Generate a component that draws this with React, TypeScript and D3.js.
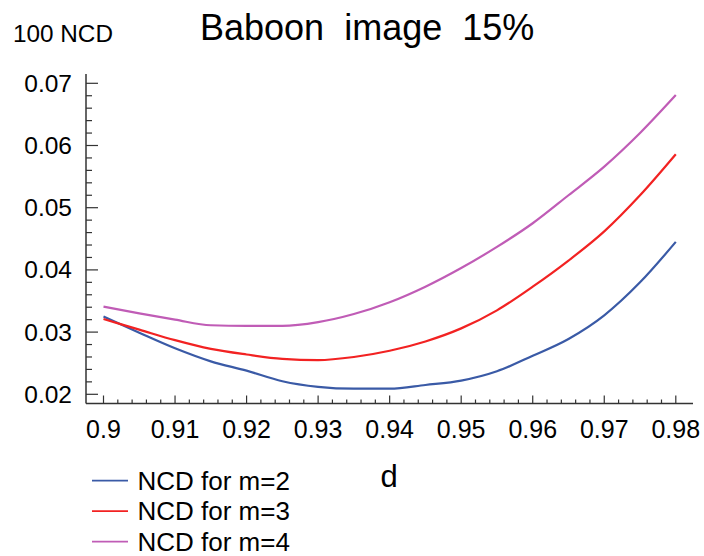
import React from "react";
import * as d3 from "d3";

const dValues = [0.9, 0.905, 0.91, 0.915, 0.92, 0.925, 0.93, 0.935, 0.94, 0.945, 0.95, 0.955, 0.96, 0.965, 0.97, 0.975, 0.98];
const ncdM2 = [0.0325, 0.0299, 0.0274, 0.0253, 0.0238, 0.0221, 0.0212, 0.0209, 0.0209, 0.0215, 0.0222, 0.0237, 0.0262, 0.0289, 0.0327, 0.038, 0.0445];
const ncdM3 = [0.0321, 0.0304, 0.0287, 0.0273, 0.0264, 0.0257, 0.0255, 0.026, 0.027, 0.0285, 0.0306, 0.0335, 0.0373, 0.0415, 0.0462, 0.052, 0.0586];
const ncdM4 = [0.0341, 0.033, 0.032, 0.0311, 0.031, 0.031, 0.0316, 0.0329, 0.0348, 0.0373, 0.0403, 0.0437, 0.0475, 0.052, 0.0566, 0.062, 0.0681];
const seriesNames = ["NCD for m=2", "NCD for m=3", "NCD for m=4"];
const seriesColors = ["#3a5aa6", "#f22222", "#c05cb6"];
const xTickLabels = ["0.9", "0.91", "0.92", "0.93", "0.94", "0.95", "0.96", "0.97", "0.98"];
const yTickLabels = ["0.02", "0.03", "0.04", "0.05", "0.06", "0.07"];

const FONT = "'Liberation Sans', Arial, sans-serif";

export default function App() {
  const x = d3.scaleLinear().domain([0.9, 0.98]).range([103.5, 675.8]);
  const y = d3.scaleLinear().domain([0.02, 0.07]).range([394.3, 83.3]);
  const axisX = 86;
  const axisY = 403.5;
  const axisTop = 74;
  const axisRight = 693;

  const series = [ncdM2, ncdM3, ncdM4];
  const line = d3
    .line<number>()
    .x((_, i) => x(dValues[i]))
    .y((v) => y(v))
    .curve(d3.curveMonotoneX);

  const xMinor = d3.range(0, 41).map((i) => 0.9 + i * 0.002);
  const yMinor = d3.range(0, 26).map((i) => 0.02 + i * 0.002);
  const stroke = "#333";

  return (
    <svg
      width={704}
      height={556}
      style={{ position: "absolute", left: 0, top: 0, background: "#fff" }}
      fontFamily={FONT}
    >
      <rect width={704} height={556} fill="#fff" />
      {/* title */}
      <text x={200} y={39.5} fontSize={36} fill="#000">
        Baboon{"\u00a0\u00a0"}image{"\u00a0\u00a0"}15%
      </text>
      <text x={13} y={41.5} fontSize={23} fill="#000" textLength={100} lengthAdjust="spacingAndGlyphs">
        100 NCD
      </text>

      {/* axes */}
      <line x1={axisX} x2={axisX} y1={axisTop} y2={axisY} stroke={stroke} strokeWidth={1.5} />
      <line x1={axisX} x2={axisRight} y1={axisY} y2={axisY} stroke={stroke} strokeWidth={1.5} />

      {yMinor.map((v, i) => {
        const major = i % 5 === 0;
        return (
          <line
            key={"ym" + i}
            x1={axisX}
            x2={axisX + (major ? 12 : 6)}
            y1={y(v)}
            y2={y(v)}
            stroke={stroke}
            strokeWidth={1.2}
          />
        );
      })}
      {xMinor.map((v, i) => {
        const major = i % 5 === 0;
        return (
          <line
            key={"xm" + i}
            x1={x(v)}
            x2={x(v)}
            y1={axisY}
            y2={axisY - (major ? 8 : 4)}
            stroke={stroke}
            strokeWidth={1.2}
          />
        );
      })}

      {yTickLabels.map((t) => (
        <text key={"yl" + t} x={72} y={y(+t) + 8.5} fontSize={24.5} textAnchor="end" fill="#000">
          {t}
        </text>
      ))}
      {xTickLabels.map((t) => (
        <text key={"xl" + t} x={x(+t)} y={437.5} fontSize={25} textAnchor="middle" fill="#000">
          {t}
        </text>
      ))}

      <text x={389} y={487} fontSize={31} textAnchor="middle" fill="#000">
        d
      </text>

      {/* curves */}
      {series.map((s, i) => (
        <path key={"s" + i} d={line(s) || ""} fill="none" stroke={seriesColors[i]} strokeWidth={2.2} />
      ))}

      {/* legend */}
      {seriesNames.map((n, i) => (
        <g key={"lg" + i} transform={`translate(0, ${480.7 + i * 30.5})`}>
          <line x1={92} x2={128} y1={0} y2={0} stroke={seriesColors[i]} strokeWidth={1.8} />
          <text x={137.5} y={8.8} fontSize={26} fill="#000">
            {n}
          </text>
        </g>
      ))}
    </svg>
  );
}
